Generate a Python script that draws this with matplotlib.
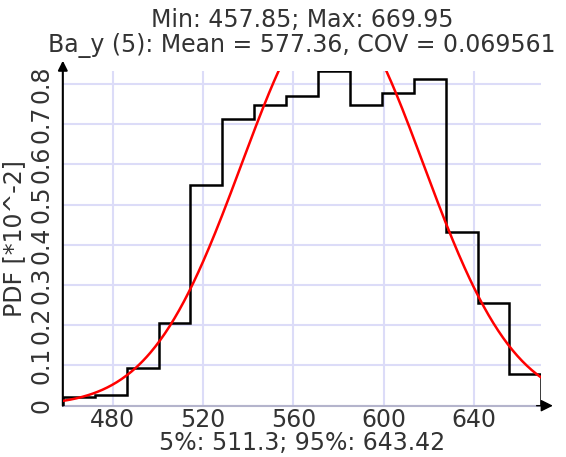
import numpy as np
import matplotlib
matplotlib.use("Agg")
import matplotlib.pyplot as plt

# Ba_y (5) sample summary
x_min, x_max = 457.85, 669.95
mean, cov = 577.36, 0.069561
p05, p95 = 511.3, 643.42
n_bins = 15

# histogram density per bin, in units of 1e-2
pdf_vals = [0.021, 0.0275, 0.0935, 0.206, 0.55, 0.7125, 0.7475, 0.769,
            0.833, 0.7475, 0.777, 0.812, 0.432, 0.255, 0.079]

x_ticks = [480, 520, 560, 600, 640]
y_ticks = [0, 0.1, 0.2, 0.3, 0.4, 0.5, 0.6, 0.7, 0.8]
y_ticklabels = ['0', '0.1', '0.2', '0.3', '0.4', '0.5', '0.6', '0.7', '0.8']

edges = np.linspace(x_min, x_max, n_bins + 1)
sd = mean * cov
xs = np.linspace(x_min, x_max, 400)
normal = np.exp(-0.5 * ((xs - mean) / sd) ** 2) / (sd * np.sqrt(2 * np.pi)) * 100

txt = '#333333'
grid_col = '#dcdcf8'
fs = 17

fig = plt.figure(figsize=(5.66, 4.57), dpi=100)
ax = fig.add_axes([0.111, 0.1123, 0.8455, 0.733])

ax.set_xlim(x_min, x_max)
ax.set_ylim(0, max(pdf_vals))

ax.set_xticks(x_ticks)
ax.set_yticks(y_ticks)
ax.set_yticklabels(y_ticklabels, rotation=90, va='center')
ax.tick_params(length=0, labelsize=fs, labelcolor=txt)
ax.tick_params(axis='x', pad=2)
ax.tick_params(axis='y', pad=7)
ax.grid(True, color=grid_col, lw=1.5)
ax.set_axisbelow(True)

for s in ['top', 'right', 'left']:
    ax.spines[s].set_visible(False)
ax.spines['bottom'].set_color('#b4b4cc')
ax.spines['bottom'].set_linewidth(1.5)

ax.stairs(pdf_vals, edges, baseline=0, color='black', lw=1.8, zorder=3)
ax.plot(xs, normal, color='red', lw=1.8, zorder=4)

# axis arrows
ax.annotate('', xy=(0, 1.03), xytext=(0, 0), xycoords='axes fraction',
            arrowprops=dict(arrowstyle='-|>', color='black', lw=1.5,
                            mutation_scale=14, shrinkA=0, shrinkB=0))
ax.annotate('', xy=(1.024, 0), xytext=(0.99, 0), xycoords='axes fraction',
            arrowprops=dict(arrowstyle='-|>', color='black', lw=1.0,
                            mutation_scale=18, shrinkA=0, shrinkB=0))

ax.set_ylabel('PDF [*10^-2]', fontsize=fs, color=txt, labelpad=2)
ax.set_xlabel('5%%: %g; 95%%: %g' % (p05, p95), fontsize=fs, color=txt, labelpad=-1)

ax.text(0.5, 1.151, 'Min: %g; Max: %g' % (x_min, x_max), transform=ax.transAxes,
        ha='center', va='center', fontsize=fs, color=txt)
ax.text(0.5, 1.074, 'Ba_y (5): Mean = %g, COV = %g' % (mean, cov), transform=ax.transAxes,
        ha='center', va='center', fontsize=fs, color=txt)

fig.savefig('out.png', dpi=100)
